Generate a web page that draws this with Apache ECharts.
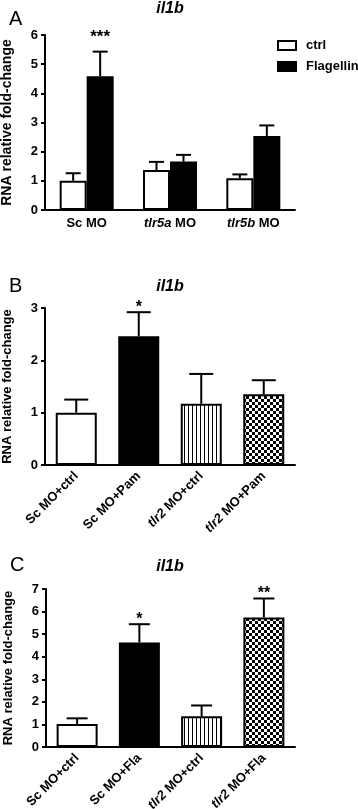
<!DOCTYPE html>
<html>
<head>
<meta charset="utf-8">
<script src="https://cdn.jsdelivr.net/npm/echarts@6/dist/echarts.min.js"></script>
<style>html,body{margin:0;padding:0;background:#fff;}#c{width:358px;height:809px;}</style>
</head>
<body>
<div id="c"></div>
<script>
// ---- Data ----
const catA = ['Sc MO', 'tlr5a MO', 'tlr5b MO'];
const ctrlA = [1.0, 1.37, 1.09];
const ctrlSemA = [0.26, 0.28, 0.13];
const flagA = [4.59, 1.66, 2.54];
const flagSemA = [0.84, 0.23, 0.36];
const flagSigA = ['***', '', ''];

const catB = ['Sc MO+ctrl', 'Sc MO+Pam', 'tlr2 MO+ctrl', 'tlr2 MO+Pam'];
const valB = [1.0, 2.46, 1.17, 1.35];
const semB = [0.25, 0.46, 0.57, 0.27];
const sigB = ['', '*', '', ''];

const catC = ['Sc MO+ctrl', 'Sc MO+Fla', 'tlr2 MO+ctrl', 'tlr2 MO+Fla'];
const valC = [1.02, 4.63, 1.36, 5.74];
const semC = [0.25, 0.81, 0.48, 0.84];
const sigC = ['', '*', '', '**'];

const yMaxA = 6, yMaxB = 3, yMaxC = 7;

// ---- Patterns ----
function stripes() {
  const c = document.createElement('canvas'); c.width = 4; c.height = 4;
  const g = c.getContext('2d'); g.fillStyle = '#fff'; g.fillRect(0, 0, 4, 4);
  g.fillStyle = '#000'; g.fillRect(0, 0, 1, 4); return c;
}
function checker() {
  const c = document.createElement('canvas'); c.width = 6; c.height = 6;
  const g = c.getContext('2d'); g.fillStyle = '#fff'; g.fillRect(0, 0, 6, 6);
  g.fillStyle = '#000'; g.fillRect(0, 0, 3, 3); g.fillRect(3, 3, 3, 3); return c;
}
const fills = ['#ffffff', '#000000', { image: stripes(), repeat: 'repeat' }, { image: checker(), repeat: 'repeat' }];

const FONT = 'Liberation Sans, Arial, sans-serif';

function labelFmt(v) {
  const m = v.match(/^(tlr\w+)(.*)$/);
  return m ? '{i|' + m[1] + '}{n|' + m[2] + '}' : '{n|' + v + '}';
}
const richLbl = {
  i: { fontFamily: FONT, fontWeight: 'bold', fontStyle: 'italic', fontSize: 13, color: '#000' },
  n: { fontFamily: FONT, fontWeight: 'bold', fontSize: 13, color: '#000' }
};

function xAxis(gi, data, rotate) {
  return {
    type: 'category', gridIndex: gi, data: data,
    axisLine: { lineStyle: { color: '#000', width: 2 } },
    axisTick: { alignWithLabel: true, length: 5, lineStyle: { color: '#000', width: 2 } },
    axisLabel: { interval: 0, rotate: rotate, margin: rotate ? 9 : 7, formatter: labelFmt, rich: richLbl }
  };
}
function yAxis(gi, max, nameSize) {
  return {
    type: 'value', gridIndex: gi, min: 0, max: max, interval: 1,
    splitLine: { show: false },
    axisLine: { show: true, lineStyle: { color: '#000', width: 2 } },
    axisTick: { show: true, length: 4, lineStyle: { color: '#000', width: 2 } },
    axisLabel: { color: '#000', fontFamily: FONT, fontWeight: 'bold', fontSize: 13, margin: 7 },
    name: 'RNA relative fold-change', nameLocation: 'middle', nameGap: 31,
    nameTextStyle: { color: '#000', fontFamily: FONT, fontWeight: 'bold', fontSize: nameSize }
  };
}

function errSeries(gi, vals, sems, sigs, offset, capW, starGap, starSize) {
  return {
    type: 'custom', xAxisIndex: gi, yAxisIndex: gi, z: 5, clip: false,
    data: vals.map((v, i) => [i, v, v + sems[i]]),
    renderItem: function (params, api) {
      const x = api.value(0), v = api.value(1), hi = api.value(2);
      const sig = sigs[params.dataIndex] || '';
      const p0 = api.coord([x, v]); const p1 = api.coord([x, hi]);
      const cx = p0[0] + offset;
      const ls = { stroke: '#000', lineWidth: 2 };
      const children = [
        { type: 'line', shape: { x1: cx, y1: p0[1], x2: cx, y2: p1[1] }, style: ls },
        { type: 'line', shape: { x1: cx - capW / 2, y1: p1[1], x2: cx + capW / 2, y2: p1[1] }, style: ls }
      ];
      if (sig) {
        children.push({ type: 'text', x: cx, y: p1[1] - starGap,
          style: { text: sig, fill: '#000', font: 'bold ' + starSize + 'px ' + FONT, textAlign: 'center', textVerticalAlign: 'bottom' } });
      }
      return { type: 'group', children: children };
    }
  };
}

const chart = echarts.init(document.getElementById('c'), null, { renderer: 'canvas' });
const barWA = 27, barWB = 41;
const titleFont = 'italic bold 16px ' + FONT;
chart.setOption({
  animation: false,
  backgroundColor: '#fff',
  grid: [
    { left: 45, top: 35, width: 250, height: 175, outerBoundsMode: 'none', containLabel: false },
    { left: 45, top: 308, width: 250, height: 157, outerBoundsMode: 'none', containLabel: false },
    { left: 46, top: 589, width: 249, height: 158, outerBoundsMode: 'none', containLabel: false }
  ],
  xAxis: [xAxis(0, catA, 0), xAxis(1, catB, 45), xAxis(2, catC, 45)],
  yAxis: [yAxis(0, yMaxA, 14), yAxis(1, yMaxB, 13), yAxis(2, yMaxC, 13)],
  legend: {
    data: ['ctrl', 'Flagellin'], orient: 'vertical', left: 277, top: 39, padding: 0,
    icon: 'rect', itemWidth: 18, itemHeight: 9, itemGap: 8,
    itemStyle: { borderWidth: 2, borderColor: '#000' },
    textStyle: { color: '#000', fontFamily: FONT, fontWeight: 'bold', fontSize: 13, padding: [0, 0, 0, 5] },
    selectedMode: false
  },
  graphic: [
    { type: 'text', left: 9, top: 9, style: { text: 'A', font: '20px ' + FONT, fill: '#000' } },
    { type: 'text', left: 9, top: 276, style: { text: 'B', font: '20px ' + FONT, fill: '#000' } },
    { type: 'text', left: 10, top: 555, style: { text: 'C', font: '20px ' + FONT, fill: '#000' } },
    { type: 'text', x: 170, y: 9, style: { text: 'il1b', font: titleFont, fill: '#000', textAlign: 'center', textVerticalAlign: 'middle' } },
    { type: 'text', x: 170, y: 287, style: { text: 'il1b', font: titleFont, fill: '#000', textAlign: 'center', textVerticalAlign: 'middle' } },
    { type: 'text', x: 170, y: 567, style: { text: 'il1b', font: titleFont, fill: '#000', textAlign: 'center', textVerticalAlign: 'middle' } }
  ],
  series: [
    { name: 'ctrl', type: 'bar', xAxisIndex: 0, yAxisIndex: 0, data: ctrlA, barWidth: barWA, barGap: '0%',
      itemStyle: { color: '#fff', borderColor: '#000', borderWidth: 2 } },
    { name: 'Flagellin', type: 'bar', xAxisIndex: 0, yAxisIndex: 0, data: flagA, barWidth: barWA, barGap: '0%',
      itemStyle: { color: '#000', borderColor: '#000', borderWidth: 2 } },
    errSeries(0, ctrlA, ctrlSemA, ['', '', ''], -barWA / 2, 15, 0, 17),
    errSeries(0, flagA, flagSemA, flagSigA, barWA / 2, 15, 6, 17),
    { type: 'bar', xAxisIndex: 1, yAxisIndex: 1, barWidth: barWB,
      data: valB.map((v, i) => ({ value: v, itemStyle: { color: fills[i] } })),
      itemStyle: { borderColor: '#000', borderWidth: 2 } },
    errSeries(1, valB, semB, sigB, 0, 24, -3, 16),
    { type: 'bar', xAxisIndex: 2, yAxisIndex: 2, barWidth: barWB,
      data: valC.map((v, i) => ({ value: v, itemStyle: { color: fills[i] } })),
      itemStyle: { borderColor: '#000', borderWidth: 2 } },
    errSeries(2, valC, semC, sigC, 0, 21, -3, 16)
  ]
});
</script>
</body>
</html>
